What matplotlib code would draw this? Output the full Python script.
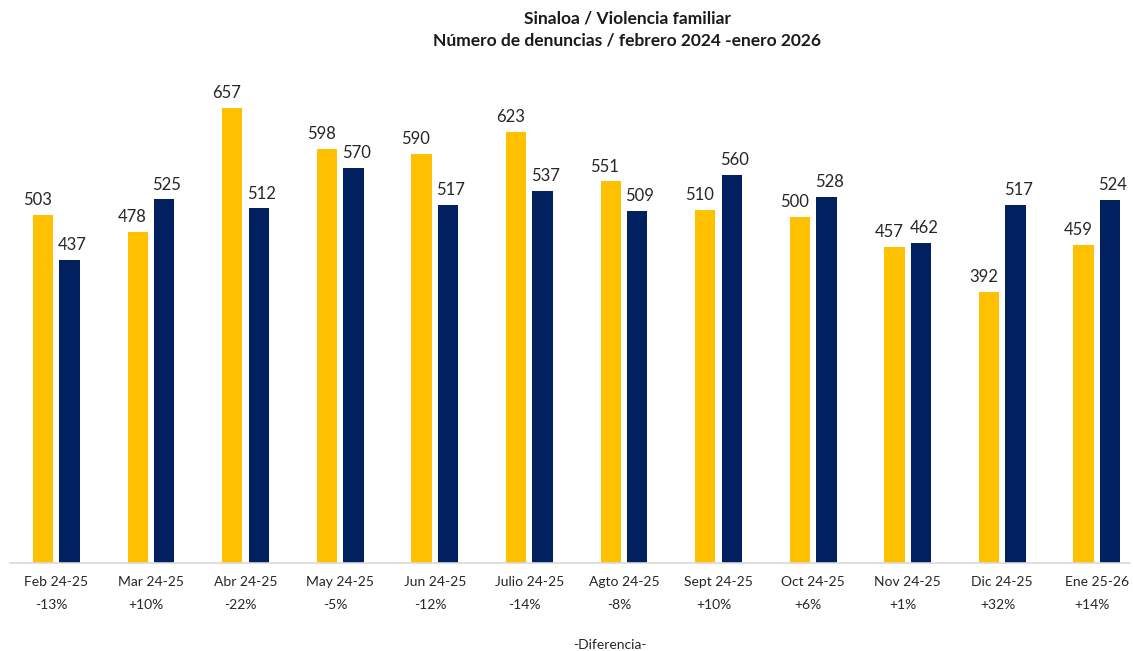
import numpy as np
import matplotlib.pyplot as plt

plt.rcParams['font.family'] = ['Lato', 'DejaVu Sans']

meses = ['Feb 24-25', 'Mar 24-25', 'Abr 24-25', 'May 24-25', 'Jun 24-25', 'Julio 24-25',
         'Agto 24-25', 'Sept 24-25', 'Oct 24-25', 'Nov 24-25', 'Dic 24-25', 'Ene 25-26']
periodo1 = [503, 478, 657, 598, 590, 623, 551, 510, 500, 457, 392, 459]
periodo2 = [437, 525, 512, 570, 517, 537, 509, 560, 528, 462, 517, 524]
diferencia = ['-13%', '+10%', '-22%', '-5%', '-12%', '-14%', '-8%', '+10%', '+6%', '+1%', '+32%', '+14%']

amarillo = '#FFC000'
azul = '#002060'

fig = plt.figure(figsize=(11.33, 6.51), dpi=100)
ax = fig.add_axes([10/1133, 88/651, 1120/1133, 500/651])

x = np.arange(len(meses))
w = 0.215
off = 0.14
ax.bar(x - off, periodo1, w, color=amarillo)
ax.bar(x + off, periodo2, w, color=azul)

for xi, v in zip(x - off, periodo1):
    ax.text(xi - 0.06, v + 10, str(v), ha='center', va='bottom', fontsize=12, color='#262626')
for xi, v in zip(x + off, periodo2):
    ax.text(xi + 0.03, v + 10, str(v), ha='center', va='bottom', fontsize=12, color='#262626')

ax.set_xlim(-0.49, 11.35)
ax.set_ylim(0, 500 / 0.6925)
ax.set_yticks([])
ax.set_xticks([])
for s in ['top', 'right', 'left']:
    ax.spines[s].set_visible(False)
ax.spines['bottom'].set_color('#D9D9D9')
ax.spines['bottom'].set_linewidth(1.2)

# etiquetas de categoria y diferencia
for xi, m, d in zip(x, meses, diferencia):
    ax.annotate(m, (xi, 0), xytext=(0, -13.5), textcoords='offset points',
                ha='center', va='center', fontsize=10, color='#262626')
    ax.annotate(d, (xi - 0.05, 0), xytext=(0, -30.5), textcoords='offset points',
                ha='center', va='center', fontsize=10, color='#262626')

fig.text(610, 651 - 645, '-Diferencia-', transform=None, fontsize=10,
         color='#262626', ha='center', va='center')
fig.text(627, 651 - 18, 'Sinaloa / Violencia familiar', transform=None, fontsize=12.5,
         fontweight='bold', ha='center', va='center', color='#1a1a1a')
fig.text(627, 651 - 41, 'Número de denuncias / febrero 2024 -enero 2026', transform=None,
         fontsize=12.5, fontweight='bold', ha='center', va='center', color='#1a1a1a')

fig.savefig('out.png', dpi=100)
